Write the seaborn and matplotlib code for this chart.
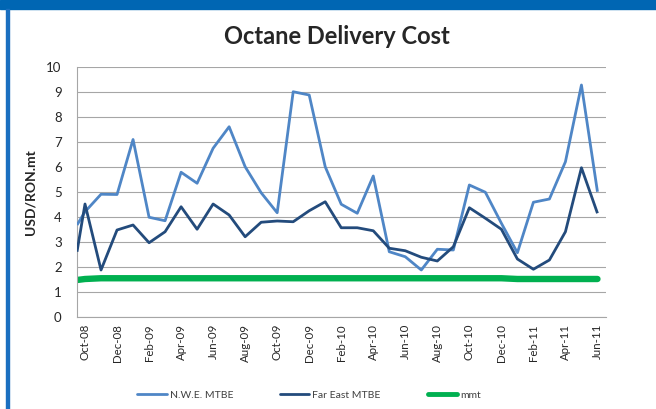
import matplotlib
matplotlib.use("Agg")
import matplotlib.pyplot as plt
from matplotlib.patches import Rectangle
import seaborn as sns
import pandas as pd
import numpy as np

# ---- data ----
dates = ["2008-09-16"] + [d.strftime("%Y-%m-%d") for d in pd.date_range("2008-10-01", "2011-06-01", freq="MS")]
nwe_mtbe = [3.68, 4.21, 4.91, 4.90,
            7.10, 3.99, 3.85, 5.79, 5.35, 6.75, 7.61, 6.01, 4.97, 4.17, 9.01, 8.88,
            6.01, 4.51, 4.15, 5.64, 2.61, 2.41, 1.88, 2.71, 2.68, 5.28, 4.99, 3.75,
            2.57, 4.59, 4.72, 6.21, 9.28, 5.01]
far_east_mtbe = [2.61, 4.52, 1.88, 3.48,
                 3.68, 2.97, 3.41, 4.41, 3.51, 4.52, 4.08, 3.21, 3.79, 3.84, 3.81, 4.25,
                 4.61, 3.57, 3.57, 3.45, 2.75, 2.65, 2.39, 2.24, 2.81, 4.37, 3.95, 3.51,
                 2.32, 1.91, 2.28, 3.41, 5.97, 4.15]
mmt = [1.48, 1.52, 1.55, 1.55,
       1.55, 1.55, 1.55, 1.55, 1.55, 1.55, 1.55, 1.55, 1.55, 1.55, 1.55, 1.55,
       1.55, 1.55, 1.55, 1.55, 1.55, 1.55, 1.55, 1.55, 1.55, 1.55, 1.55, 1.55,
       1.52, 1.52, 1.52, 1.52, 1.52, 1.52]
series_names = ["N.W.E. MTBE", "Far East MTBE", "mmt"]
tick_dates = pd.date_range("2008-10-01", "2011-06-01", freq="2MS")
y_ticks = list(range(0, 11))

# month index relative to Oct-08 (uniform monthly spacing, like a category date axis)
def month_pos(d):
    d = pd.Timestamp(d)
    return (d.year - 2008) * 12 + d.month - 10 + (d.day - 1) / d.days_in_month

xs = [month_pos(d) for d in dates]
df = pd.DataFrame({
    "x": xs * 3,
    "value": nwe_mtbe + far_east_mtbe + mmt,
    "series": sum([[n] * len(xs) for n in series_names], []),
})

sns.set_style("white")
plt.rcParams["font.family"] = ["Lato", "DejaVu Sans"]

fig = plt.figure(figsize=(6.56, 4.09), dpi=100)
ax = fig.add_axes([77 / 656, 1 - 317 / 409, (606 - 77) / 656, (317 - 67) / 409])

palette = {"N.W.E. MTBE": "#4F86C6", "Far East MTBE": "#234B7C", "mmt": "#00B050"}
sns.lineplot(data=df, x="x", y="value", hue="series", palette=palette, ax=ax,
             legend=False, sort=False, estimator=None)
widths = {"N.W.E. MTBE": 2.0, "Far East MTBE": 2.0, "mmt": 4.6}
for line, name in zip(ax.get_lines(), series_names):
    line.set_linewidth(widths[name])
    line.set_solid_capstyle("round" if name == "mmt" else "butt")
    line.set_solid_joinstyle("round")
    line.set_zorder(3 if name != "mmt" else 2)

ax.set_xlim(month_pos("2008-09-16"), month_pos("2011-06-17"))
ax.set_ylim(0, 10)
ax.set_yticks(y_ticks)
ax.set_xticks([month_pos(d) for d in tick_dates])
ax.set_xticklabels([d.strftime("%b-%y") for d in tick_dates], rotation=90, fontsize=8.3)
ax.tick_params(axis="y", labelsize=9.5, length=0, pad=11)
ax.tick_params(axis="x", length=0, pad=5)
ax.grid(axis="y", color="#A6A6A6", linewidth=0.8)
ax.set_axisbelow(True)
for s in ["top", "right"]:
    ax.spines[s].set_visible(False)
for s in ["left", "bottom"]:
    ax.spines[s].set_color("#A6A6A6")
    ax.spines[s].set_linewidth(0.8)
ax.set_xlabel("")
ax.set_ylabel("USD/RON.mt", fontsize=10, fontweight="bold", labelpad=7)

fig.text(0.514, 0.91, "Octane Delivery Cost", ha="center", va="center",
         fontsize=17, fontweight="bold")

handles = [plt.Line2D([], [], color=palette[n], linewidth=widths[n] if n != "mmt" else 3.5)
           for n in series_names]
fig.legend(handles, series_names, loc="center", bbox_to_anchor=(0.471, 0.034), ncol=3,
           frameon=False, fontsize=7.5, handlelength=2.8, handletextpad=0.3, columnspacing=4.5,
           labelcolor="#404040")

# blue frame (top bar + left edge)
fig.patches.append(Rectangle((0, 1 - 9 / 409), 1, 9 / 409, transform=fig.transFigure,
                             color="#0066B3", zorder=0))
fig.patches.append(Rectangle((6 / 656, 0), 2.5 / 656, 1 - 9 / 409, transform=fig.transFigure,
                             color="#1A6FC0", zorder=0))

fig.savefig("out.png", dpi=100)
